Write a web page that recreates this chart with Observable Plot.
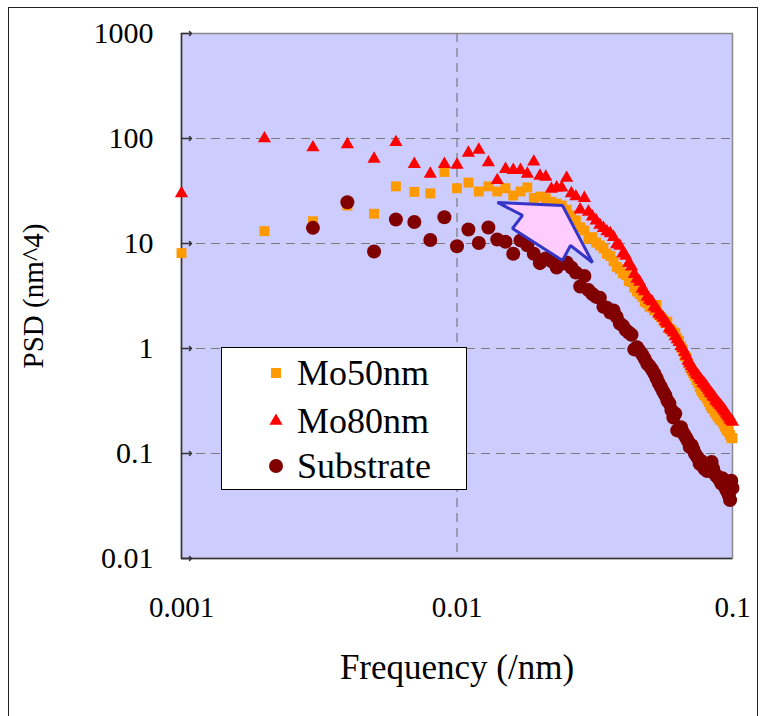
<!DOCTYPE html>
<html>
<head>
<meta charset="utf-8">
<script src="https://cdn.jsdelivr.net/npm/d3@7"></script>
<script src="https://cdn.jsdelivr.net/npm/@observablehq/plot@0.6"></script>
<style>
  body { margin: 0; background: #fff; font-family: "Times New Roman", "Liberation Serif", "DejaVu Serif", serif; color: #000; }
  #wrap { position: relative; width: 766px; height: 716px; overflow: hidden; background: #fff; }
  #outer { position: absolute; left: 8px; top: 7px; width: 748px; height: 740px; border: 1.5px solid #222; }
  #chart { position: absolute; left: 0; top: 0; }
  #legend { position: absolute; left: 221px; top: 347px; width: 244px; height: 141px; background: #fff; border: 1.5px solid #000; }
  .row { position: absolute; left: 0; height: 40px; }
  .row svg { position: absolute; left: 45px; }
  .row span { position: absolute; left: 75px; top: 0; font-size: 36px; white-space: nowrap; line-height: 40px; font-family: "Times New Roman", "Liberation Serif", "DejaVu Serif", serif; }
  svg text { font-family: "Times New Roman", "Liberation Serif", "DejaVu Serif", serif; }
</style>
</head>
<body>
<div id="wrap">
  <div id="outer"></div>
  <div id="chart"></div>
  <div id="legend"></div>
</div>
<script>
// Frequencies (/nm)
const freq = [
  0.001, 0.002, 0.003, 0.004, 0.005, 0.006, 0.007, 0.008, 0.009, 0.010,
  0.011, 0.012, 0.013, 0.014, 0.015, 0.016, 0.017, 0.018, 0.019, 0.020,
  0.021, 0.022, 0.023, 0.024, 0.025, 0.026, 0.027, 0.028, 0.029, 0.030,
  0.031, 0.032, 0.033, 0.034, 0.035, 0.036, 0.037, 0.038, 0.039, 0.040,
  0.041, 0.042, 0.043, 0.044, 0.045, 0.046, 0.047, 0.048, 0.049, 0.050,
  0.051, 0.052, 0.053, 0.054, 0.055, 0.056, 0.057, 0.058, 0.059, 0.060,
  0.061, 0.062, 0.063, 0.064, 0.065, 0.066, 0.067, 0.068, 0.069, 0.070,
  0.071, 0.072, 0.073, 0.074, 0.075, 0.076, 0.077, 0.078, 0.079, 0.080,
  0.081, 0.082, 0.083, 0.084, 0.085, 0.086, 0.087, 0.088, 0.089, 0.090,
  0.091, 0.092, 0.093, 0.094, 0.095, 0.096, 0.097, 0.098, 0.099, 0.100
];

// PSD (nm^4)
const mo50 = [
  8.1, 13.1, 16.3, 23, 19.2, 35, 31, 30, 48, 33.6,
  38, 31.3, 35, 31.3, 33.6, 28.6, 31.3, 34.2, 27.1, 28,
  27, 25, 24, 23, 21, 18.5, 16.6, 14.3, 13.3, 11.1,
  11.5, 10.2, 9.6, 9.0, 8.0, 7.6, 6.8, 6.0, 5.7, 5.2,
  5.0, 4.4, 4.3, 3.8, 3.5, 3.3, 3.1, 2.8, 2.7, 2.5,
  2.45, 2.3, 2.6, 2.1, 2.0, 1.9, 1.75, 1.8, 1.55, 1.5,
  1.42, 1.4, 1.25, 1.18, 1.05, 0.98, 0.85, 0.82, 0.72, 0.66,
  0.62, 0.58, 0.55, 0.5, 0.47, 0.43, 0.40, 0.38, 0.36, 0.35,
  0.33, 0.31, 0.29, 0.27, 0.28, 0.25, 0.24, 0.23, 0.22, 0.21,
  0.21, 0.20, 0.19, 0.18, 0.17, 0.165, 0.16, 0.15, 0.14, 0.14
];
const mo80 = [
  30, 100, 82, 88, 64, 92, 57, 46, 57, 56,
  73, 78, 59, 40, 51, 50, 50, 46, 60, 44,
  43, 33, 34, 34, 42, 30, 28, 21, 27, 20,
  18, 16.5, 15, 14, 13, 12.5, 11.5, 9.8, 9.5, 8.0,
  7.6, 6.5, 6.0, 5.1, 4.6, 4.3, 3.7, 3.5, 3.1, 2.9,
  2.8, 2.5, 2.4, 2.15, 2.05, 1.95, 1.8, 1.72, 1.55, 1.5,
  1.42, 1.3, 1.22, 1.15, 1.05, 1.0, 0.92, 0.85, 0.76, 0.72,
  0.68, 0.64, 0.6, 0.57, 0.55, 0.52, 0.5, 0.47, 0.46, 0.44,
  0.42, 0.4, 0.38, 0.37, 0.35, 0.34, 0.32, 0.31, 0.3, 0.29,
  0.28, 0.27, 0.26, 0.25, 0.24, 0.23, 0.22, 0.21, 0.205, 0.2
];
const substrate = [
  null, null, 14.1, 24.7, 8.4, 16.9, 16.0, 10.8, 17.8, 9.4,
  13.6, 10.1, 14.2, 10.9, 10.4, 8.0, 10.7, 9.6, 8.0, 6.5,
  7.2, 6.8, 5.9, 6.4, 6.6, 5.9, 5.3, 3.9, 4.9, 3.6,
  3.3, 3.1, 3.05, 2.5, 2.45, 2.2, 2.3, 2.0, 1.73, 1.65,
  1.5, 1.42, 1.35, 0.98, 1.03, 0.95, 0.88, 0.8, 0.72, 0.68,
  0.63, 0.58, 0.52, 0.47, 0.43, 0.39, 0.36, 0.32, 0.3, 0.26,
  0.22, 0.24, 0.166, 0.17, 0.178, 0.16, 0.15, 0.14, 0.13, 0.115,
  0.12, 0.11, 0.1, 0.095, 0.09, 0.08, 0.085, 0.078, 0.072, 0.07,
  0.068, 0.07, 0.075, 0.083, 0.072, 0.065, 0.062, 0.06, 0.058, 0.056,
  0.052, 0.058, 0.05, 0.048, 0.045, 0.043, 0.04, 0.036, 0.055, 0.047
];

// Annotation arrow outline (data coordinates)
const arrowFreq = [0.01403, 0.02415, 0.03103, 0.02582, 0.02415, 0.0159, 0.01729];
const arrowPSD  = [24.6, 23.0, 6.59, 9.57, 6.89, 13.9, 18.5];

const xTicks = [0.001, 0.01, 0.1];
const yTicks = [0.01, 0.1, 1, 10, 100, 1000];
const yGrid = [0.1, 1, 10, 100];
const xGrid = [0.01];

const seriesNames = ["Mo50nm", "Mo80nm", "Substrate"];
const seriesColors = ["#FF9900", "#FF0000", "#800000"];
const seriesSymbols = ["square", "triangle", "circle"];
const seriesR = [5.6, 4.9, 7.0];

const serif = "'Times New Roman', 'Liberation Serif', 'DejaVu Serif', serif";
const toRows = (vals) => freq.map((f, i) => ({f, v: vals[i]})).filter(d => d.v != null);
const rows = [toRows(mo50), toRows(mo80), toRows(substrate)];
const arrow = arrowFreq.map((f, i) => ({f, v: arrowPSD[i]}));

const chart = Plot.plot({
  width: 766,
  height: 716,
  marginLeft: 181,
  marginRight: 34,
  marginTop: 33,
  marginBottom: 158,
  style: {fontFamily: serif, background: "transparent", color: "#000", overflow: "visible"},
  x: {type: "log", domain: [0.001, 0.1]},
  y: {type: "log", domain: [0.01, 1000]},
  marks: [
    Plot.frame({fill: "#CCCCFF", stroke: "#8a8a8a", strokeWidth: 1.5}),
    Plot.ruleY(yGrid, {stroke: "#7a7a7a", strokeWidth: 1.2, strokeDasharray: "9,6"}),
    Plot.ruleX(xGrid, {stroke: "#7a7a7a", strokeWidth: 1.2, strokeDasharray: "9,6"}),
    Plot.ruleX([xTicks[0]], {stroke: "#333", strokeWidth: 1.5}),
    Plot.ruleY([yTicks[0]], {stroke: "#333", strokeWidth: 1.5}),
    Plot.vector(yTicks, {x: () => xTicks[0], y: d => d, rotate: 90, length: 10, anchor: "start", stroke: "#333", strokeWidth: 1.5}),
    Plot.axisY({ticks: yTicks, tickFormat: d => String(d), tickSize: 0, tickPadding: 28, fontSize: 30, fontFamily: serif, label: null}),
    Plot.axisX({ticks: xTicks, tickFormat: d => String(d), tickSize: 0, tickPadding: 38, fontSize: 29, fontFamily: serif, label: null}),
    ...rows.map((data, i) => Plot.dot(data, {x: "f", y: "v", symbol: seriesSymbols[i], fill: seriesColors[i], r: seriesR[i], stroke: "none"})),
    Plot.line(arrow, {x: "f", y: "v", curve: "linear-closed", fill: "#FFCCFF", stroke: "#3535C8", strokeWidth: 3, strokeLinejoin: "miter"}),
    Plot.text(["Frequency (/nm)"], {frameAnchor: "bottom", lineAnchor: "middle", textAnchor: "middle", dy: 109, fontSize: 35, fontFamily: serif, fill: "#000"}),
    Plot.text(["PSD (nm^4)"], {frameAnchor: "left", lineAnchor: "middle", textAnchor: "middle", dx: -148, rotate: -90, fontSize: 29, fontFamily: serif, fill: "#000"})
  ]
});
document.getElementById("chart").appendChild(chart);

// Legend
const legend = document.getElementById("legend");
const rowTops = [5, 53, 98];
seriesNames.forEach((name, i) => {
  const row = document.createElement("div");
  row.className = "row";
  row.style.top = rowTops[i] + "px";
  const size = 18;
  const sym = d3.symbol().type(i === 0 ? d3.symbolSquare : i === 1 ? d3.symbolTriangle : d3.symbolCircle)
    .size(Math.PI * seriesR[i] * seriesR[i]);
  row.innerHTML = `<svg width="${size}" height="${size}" viewBox="${-size/2} ${-size/2} ${size} ${size}" style="top:${20 - size/2}px"><path d="${sym()}" fill="${seriesColors[i]}"/></svg><span>${name}</span>`;
  legend.appendChild(row);
});
</script>
</body>
</html>
